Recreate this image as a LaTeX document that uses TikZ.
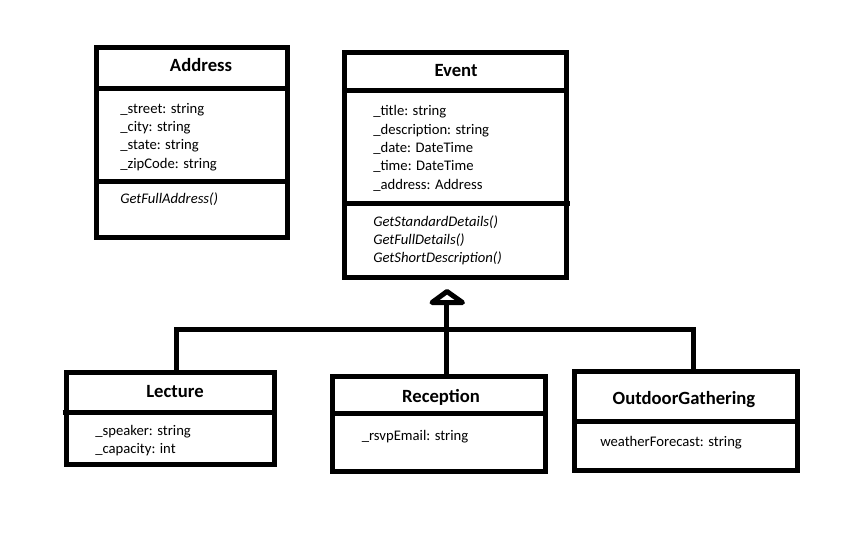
\documentclass[tikz,border=0pt]{standalone}
\usepackage{fontspec}
\setmainfont{Carlito}
\usetikzlibrary{calc}
\begin{document}
\begin{tikzpicture}[x=0.75pt,y=-0.75pt,
  classbox/.style={draw, line width=3.75pt, rectangle, inner sep=0pt, outer sep=0pt, line join=miter},
  divider/.style={line width=3.75pt},
  conn/.style={line width=3.75pt, line join=miter},
  tri/.style={line width=3.75pt, line join=round, fill=white},
  attr/.style={anchor=base west, inner sep=0pt, font=\fontsize{11pt}{13pt}\selectfont},
  meth/.style={anchor=base west, inner sep=0pt, font=\fontsize{11pt}{13pt}\selectfont\itshape},
  title/.style={anchor=base, inner sep=0pt, font=\fontsize{14pt}{17pt}\selectfont\bfseries}]
\useasboundingbox[fill=white] (0,0) rectangle (852,556);

% class boxes
\node[classbox, minimum width=191*0.75pt, minimum height=189*0.75pt] (address) at (191.5,142.5) {};
\node[classbox, minimum width=222*0.75pt, minimum height=224*0.75pt] (event) at (455,165) {};
\node[classbox, minimum width=208*0.75pt, minimum height=92*0.75pt] (lecture) at (170.5,418) {};
\node[classbox, minimum width=213*0.75pt, minimum height=95*0.75pt] (reception) at (438.5,423.5) {};
\node[classbox, minimum width=223*0.75pt, minimum height=99*0.75pt] (outdoor) at (685.5,420.5) {};

% dividers
\draw[divider] ($(address.north west)+(0,41)$) -- ($(address.north east)+(0,41)$);
\draw[divider] ($(address.north west)+(0,133)$) -- ($(address.north east)+(0,133)$);
\draw[divider] ($(event.north west)+(0,38)$) -- ($(event.north east)+(0,38)$);
\draw[divider] ($(event.north west)+(0,150)$) -- ($(event.north east)+(4,150)$);
\draw[divider] ($(lecture.north west)+(-4,40.5)$) -- ($(lecture.north east)+(0,40.5)$);
\draw[divider] ($(reception.north west)+(0,37)$) -- ($(reception.north east)+(0,37)$);
\draw[divider] ($(outdoor.north west)+(0,50)$) -- ($(outdoor.north east)+(0,50)$);

% titles
\node[title] (addresst) at (201,72) {Address};
\node[title] (eventt) at (456,77) {Event};
\node[title] (lecturet) at (175,397) {Lecture};
\node[title] (receptiont) at (441,402) {Reception};
\node[title] (outdoort) at (684,404) {OutdoorGathering};

% Address members
\node[attr] (a1) at (120,114) {\_street: string};
\node[attr] (a2) at (120,132) {\_city: string};
\node[attr] (a3) at (120,150) {\_state: string};
\node[attr] (a4) at (120,168) {\_zipCode: string};
\node[meth] (am1) at (120,203.5) {GetFullAddress()};

% Event members
\node[attr] (e1) at (373,116) {\_title: string};
\node[attr] (e2) at (373,134.3) {\_description: string};
\node[attr] (e3) at (373,152.6) {\_date: DateTime};
\node[attr] (e4) at (373,171) {\_time: DateTime};
\node[attr] (e5) at (373,189.3) {\_address: Address};
\node[meth] (em1) at (373,226) {GetStandardDetails()};
\node[meth] (em2) at (373,244.4) {GetFullDetails()};
\node[meth] (em3) at (373,262.7) {GetShortDescription()};

% Lecture members
\node[attr] (l1) at (95,435.5) {\_speaker: string};
\node[attr] (l2) at (95,453) {\_capacity: int};

% Reception members
\node[attr] (r1) at (361.5,440) {\_rsvpEmail: string};

% OutdoorGathering members
\node[attr] (o1) at (600,446) {weatherForecast: string};

% generalization connectors
\coordinate (junction) at (446.5,329);
\coordinate (tribase) at (446.5,302.5);
\draw[conn] ($(lecture.north)+(5.5,0)$) |- (junction);
\draw[conn] ($(outdoor.north)+(7.5,0)$) |- (junction);
\draw[conn] ($(reception.north)+(8,0)$) -- (tribase);
\draw[tri] (432,302.5) -- (447,291.5) -- (462.5,302.5) -- cycle;
\end{tikzpicture}
\end{document}
